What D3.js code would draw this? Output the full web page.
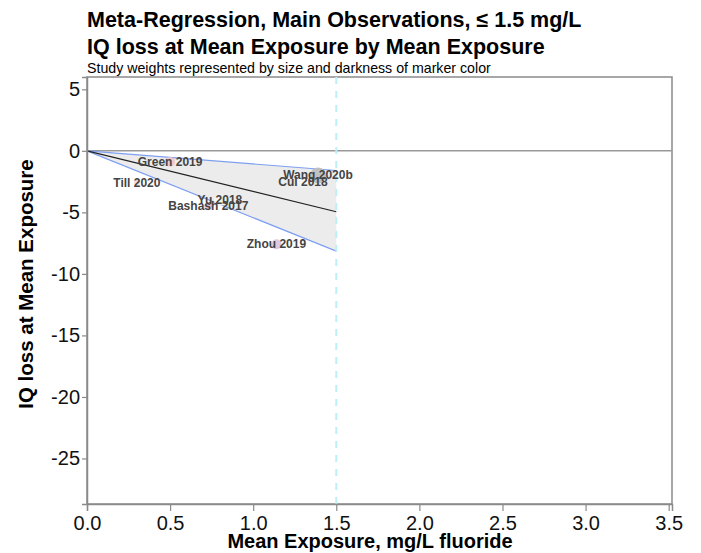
<!DOCTYPE html>
<html lang="en">
<meta charset="utf-8">
<script src="https://cdn.jsdelivr.net/npm/d3@7"></script>
<style>
  body { margin: 0; background: #fff; }
  text { font-family: "Liberation Sans", Arial, Helvetica, sans-serif; }
</style>
<body>
<div id="my_dataviz"></div>
<script>
// studies: mean exposure (mg/L) and IQ loss at mean exposure
var studies = ["Green 2019", "Till 2020", "Yu 2018", "Bashash 2017", "Cui 2018", "Wang 2020b", "Zhou 2019"];
var exposure = [0.50, 0.30, 0.80, 0.73, 1.30, 1.39, 1.14];
var iqLoss   = [-0.9, -2.6, -4.0, -4.5, -2.5, -2.0, -7.6];
var markerR  = [5, 3, 6, 4, 6, 8, 5];
var markerFill = ["#f2c4cb", "#f3d9d2", "#f4f4f4", "#e9b8c8", "#f6f6f6", "#bdbdbd", "#d9c3df"];

// regression line and confidence band, drawn 0 to 1.5 mg/L
var fitX     = [0, 1.5];
var fitMid   = [0, -4.95];
var fitUpper = [0, -1.6];
var fitLower = [0, -8.15];

var xTicks = [0, 0.5, 1, 1.5, 2, 2.5, 3, 3.5];
var yTicks = [5, 0, -5, -10, -15, -20, -25];

var margin = {top: 77, right: 29, bottom: 49, left: 87},
    width = 701 - margin.left - margin.right,
    height = 553 - margin.top - margin.bottom;

var root = d3.select("#my_dataviz")
  .append("svg")
    .attr("width", 701)
    .attr("height", 553);

var svg = root.append("g")
    .attr("transform", "translate(" + margin.left + "," + margin.top + ")");

var x = d3.scaleLinear().domain([0, 3.52]).range([0, width]);
var y = d3.scaleLinear().domain([-28.7, 6]).range([height, 0]);

// titles
root.append("text").attr("x", 87).attr("y", 27)
  .style("font-size", "21.5px").style("font-weight", "bold")
  .text("Meta-Regression, Main Observations, \u2264 1.5 mg/L");
root.append("text").attr("x", 87).attr("y", 54)
  .style("font-size", "21.5px").style("font-weight", "bold")
  .text("IQ loss at Mean Exposure by Mean Exposure");
root.append("text").attr("x", 87).attr("y", 73)
  .style("font-size", "14.2px")
  .text("Study weights represented by size and darkness of marker color");

// frame
svg.append("rect")
  .attr("width", width).attr("height", height)
  .attr("fill", "none").attr("stroke", "#8a8a8a").attr("stroke-width", 1.5);

// zero line
svg.append("line")
  .attr("x1", 0).attr("x2", width)
  .attr("y1", y(0)).attr("y2", y(0))
  .attr("stroke", "#999").attr("stroke-width", 1.5);

// confidence band
var band = fitX.map(function(d, i) { return {x: d, lo: fitLower[i], hi: fitUpper[i]}; });
svg.append("path")
  .datum(band)
  .attr("fill", "#ececec")
  .attr("d", d3.area().x(function(d) { return x(d.x); })
    .y0(function(d) { return y(d.lo); }).y1(function(d) { return y(d.hi); }));

var line = d3.line().x(function(d) { return x(d[0]); }).y(function(d) { return y(d[1]); });
[fitUpper, fitLower].forEach(function(s) {
  svg.append("path")
    .datum(fitX.map(function(d, i) { return [d, s[i]]; }))
    .attr("fill", "none").attr("stroke", "#7e9ff0").attr("stroke-width", 1.2)
    .attr("d", line);
});
svg.append("path")
  .datum(fitX.map(function(d, i) { return [d, fitMid[i]]; }))
  .attr("fill", "none").attr("stroke", "#222").attr("stroke-width", 1.2)
  .attr("d", line);

// 1.5 mg/L reference
svg.append("line")
  .attr("x1", x(1.5)).attr("x2", x(1.5))
  .attr("y1", 0).attr("y2", height)
  .attr("stroke", "#bdeefa").attr("stroke-width", 2)
  .attr("stroke-dasharray", "7,7");

// markers
svg.selectAll("circle.study")
  .data(studies)
  .enter().append("circle")
    .attr("class", "study")
    .attr("cx", function(d, i) { return x(exposure[i]); })
    .attr("cy", function(d, i) { return y(iqLoss[i]); })
    .attr("r", function(d, i) { return markerR[i]; })
    .attr("fill", function(d, i) { return markerFill[i]; })
    .attr("opacity", 0.9);

svg.selectAll("text.study")
  .data(studies)
  .enter().append("text")
    .attr("class", "study")
    .attr("x", function(d, i) { return x(exposure[i]); })
    .attr("y", function(d, i) { return y(iqLoss[i]) + 4; })
    .attr("text-anchor", "middle")
    .style("font-size", "12px").style("font-weight", "bold")
    .style("fill", "#444")
    .text(function(d) { return d; });

// axes
var xAxis = svg.append("g")
  .attr("transform", "translate(0," + height + ")")
  .call(d3.axisBottom(x).tickValues(xTicks).tickFormat(d3.format(".1f")).tickSizeOuter(0).tickSize(7));
var yAxis = svg.append("g")
  .call(d3.axisLeft(y).tickValues(yTicks).tickSizeOuter(0).tickSize(5).tickFormat(function(d) { return d < 0 ? "-" + Math.abs(d) : d; }));

[xAxis, yAxis].forEach(function(a) {
  a.select(".domain").attr("stroke", "#8a8a8a").attr("stroke-width", 1.5);
  a.selectAll(".tick line").attr("stroke", "#8a8a8a").attr("stroke-width", 1.2);
  a.selectAll(".tick text").style("font-size", "20px").style("font-family", "Liberation Sans, Arial, sans-serif").attr("fill", "#111");
});
xAxis.selectAll(".tick text").attr("y", 9).attr("dy", "0.85em");
yAxis.selectAll(".tick text").attr("x", -7);

// axis titles
root.append("text")
  .attr("x", 370).attr("y", 548)
  .attr("text-anchor", "middle")
  .style("font-size", "20px").style("font-weight", "bold")
  .text("Mean Exposure, mg/L fluoride");
root.append("text")
  .attr("transform", "translate(33,284) rotate(-90)")
  .attr("text-anchor", "middle")
  .style("font-size", "20.5px").style("font-weight", "bold")
  .text("IQ loss at Mean Exposure");
</script>
</body>
</html>
